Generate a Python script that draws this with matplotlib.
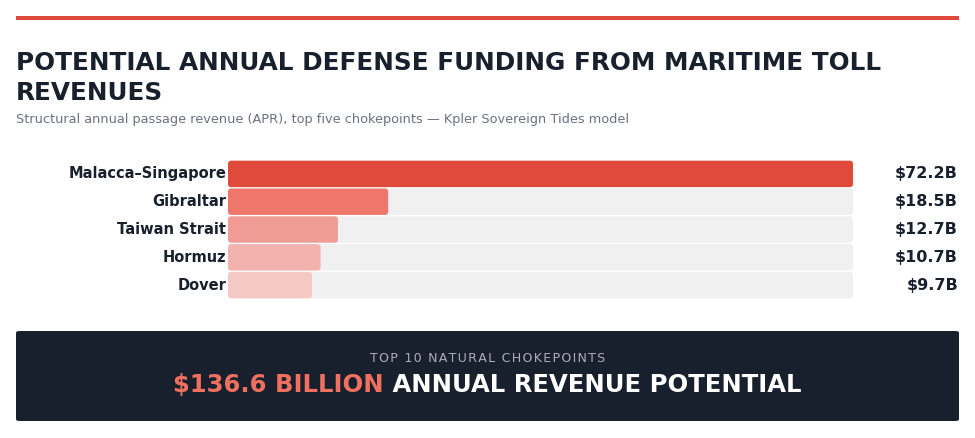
import matplotlib.pyplot as plt
from matplotlib.patches import FancyBboxPatch, Rectangle

plt.rcParams['font.family'] = ['DejaVu Sans']

# data
names = ["Malacca–Singapore", "Gibraltar", "Taiwan Strait", "Hormuz", "Dover"]
values = [72.2, 18.5, 12.7, 10.7, 9.7]
value_labels = ["$72.2B", "$18.5B", "$12.7B", "$10.7B", "$9.7B"]
bar_colors = ["#e04a3b", "#ee766b", "#f09c95", "#f2b3af", "#f4c9c5"]
total_label = "$136.6 BILLION"
total_rest = " ANNUAL REVENUE POTENTIAL"
box_label = "TOP 10 NATURAL CHOKEPOINTS"

W, H = 975, 438
fig = plt.figure(figsize=(W / 100, H / 100), dpi=100)
fig.patch.set_facecolor("white")

def fx(px):
    return px / W

def fy(py):
    return 1 - py / H

dark = "#18202d"

# top red rule
fig.patches.append(Rectangle((fx(16), fy(20)), fx(943), 4 / H, transform=fig.transFigure,
                             color="#e04a3b", lw=0))

fig.text(fx(16), fy(63), "POTENTIAL ANNUAL DEFENSE FUNDING FROM MARITIME TOLL",
         fontsize=17.8, fontweight="bold", color=dark, va="center", ha="left")
fig.text(fx(16), fy(93), "REVENUES",
         fontsize=17.8, fontweight="bold", color=dark, va="center", ha="left")
fig.text(fx(16), fy(120), "Structural annual passage revenue (APR), top five chokepoints — Kpler Sovereign Tides model",
         fontsize=9.3, color="#6b7280", va="center", ha="left")

# bars
ax = fig.add_axes([fx(228), fy(299), fx(853 - 228), (299 - 160) / H])
n = len(values)
xmax = max(values)
ax.set_xlim(0, xmax)
ax.set_ylim(n - 0.5, -0.5)
ax.axis("off")

px_x = xmax / (853 - 228)
px_y = n / 139
r = 3 * px_x
asp = px_y / px_x

track = ax.barh(range(n), [xmax] * n, height=0.95, color="#f0f0f0")
bars = ax.barh(range(n), values, height=0.95, color=bar_colors)
for group in (track, bars):
    for p in group:
        x0, y0 = p.get_x(), p.get_y()
        w, h = p.get_width(), p.get_height()
        fb = FancyBboxPatch((x0, y0), w, h, boxstyle=f"round,pad=0,rounding_size={r}",
                            mutation_aspect=asp, facecolor=p.get_facecolor(), lw=0)
        p.set_visible(False)
        ax.add_patch(fb)

for i, (nm, lab) in enumerate(zip(names, value_labels)):
    ax.text(-0.2, i, nm, ha="right", va="center", fontsize=10.5, fontweight="bold", color=dark)
    ax.text(fx(958 - 228) / fx(853 - 228) * xmax, i, lab, ha="right", va="center",
            fontsize=11.5, fontweight="bold", color=dark)

# bottom summary box
fig.patches.append(FancyBboxPatch((fx(16), fy(421)), fx(943), 90 / H,
                                  boxstyle="round,pad=0,rounding_size=0.004",
                                  transform=fig.transFigure, facecolor=dark, lw=0))
fig.text(0.5, fy(358), "\u200a".join(box_label), ha="center", va="center",
         fontsize=9.1, color="#a9afb9")

t1 = fig.text(0.5, fy(385), total_label, ha="left", va="center", fontsize=17.5,
              fontweight="bold", color="#f0705f")
t2 = fig.text(0.5, fy(385), total_rest, ha="left", va="center", fontsize=17.5,
              fontweight="bold", color="white")
rend = fig.canvas.get_renderer()
w1 = t1.get_window_extent(rend).width
w2 = t2.get_window_extent(rend).width
start = (W - (w1 + w2)) / 2
t1.set_x(start / W)
t2.set_x((start + w1) / W)

fig.savefig("out.png", dpi=100)
